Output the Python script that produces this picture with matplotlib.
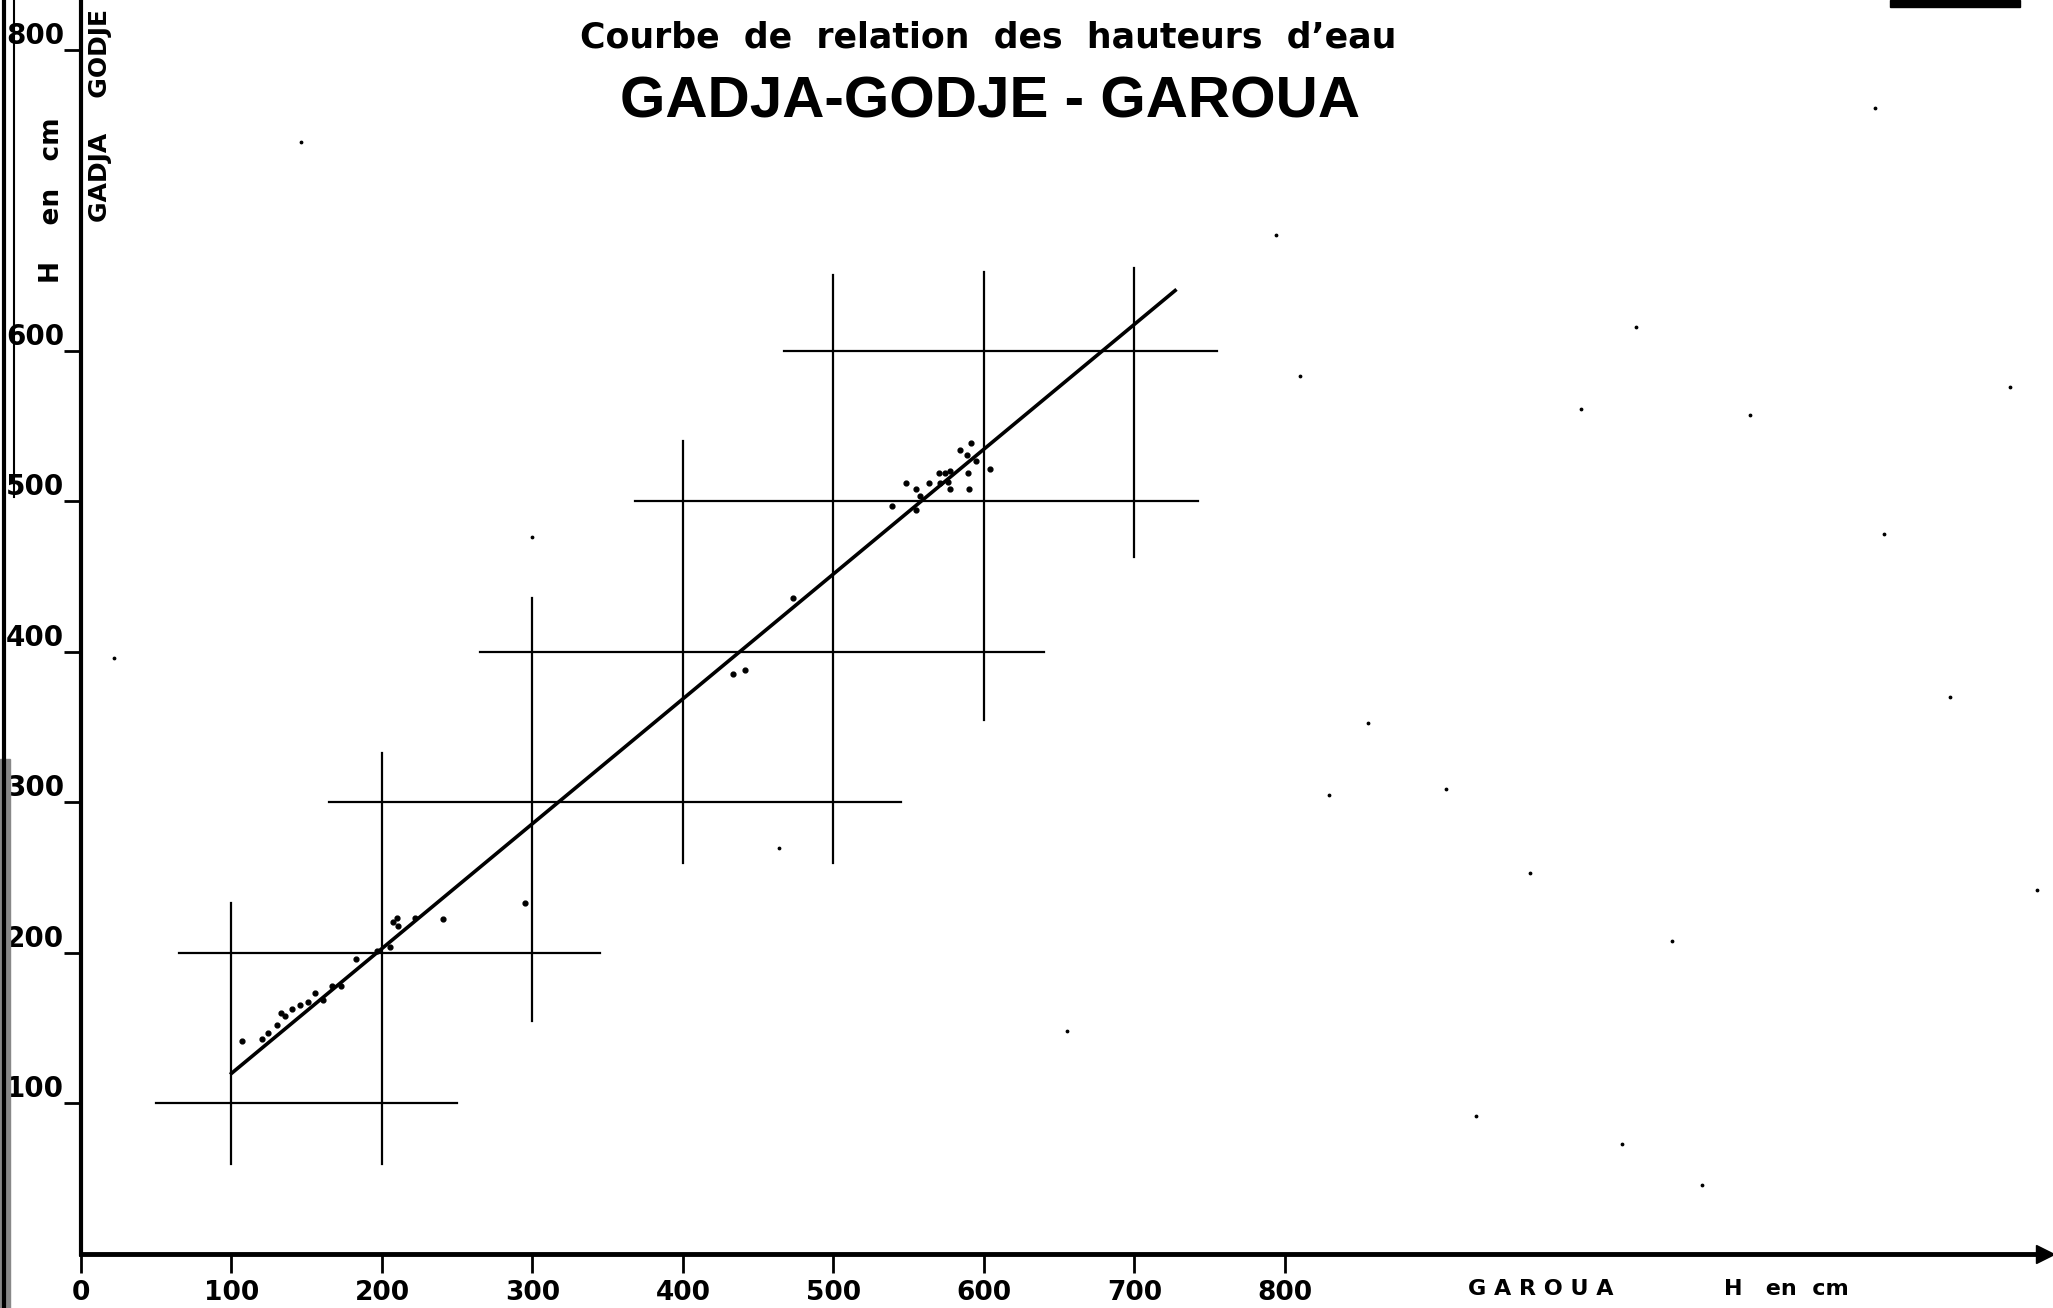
import numpy as np
import matplotlib.pyplot as plt
from matplotlib.patches import Rectangle
from matplotlib.lines import Line2D

# H Garoua (x) vs H Gadja-Godje (y), cm
x_pts = [107, 120, 124.5, 130, 133, 135.5, 140, 145.5, 151, 155.5, 161, 166.6, 173,
         183, 196.5, 205.3, 207.5, 209.8, 210.9, 222, 240.8, 295,
         433, 441, 473,
         538.7, 548, 555, 557.5, 554.8, 563.5, 570.3, 574, 570.8, 577.4, 576.3, 577.4,
         584, 589, 591.2, 589.6, 590, 595, 604]
y_pts = [141.7, 142.7, 147, 152, 160, 157.8, 162.6, 165.4, 167.7, 173.6, 168.8, 177.7, 177.7,
         195.8, 201, 204.2, 220.8, 223, 217.6, 223, 222.4, 233,
         385, 388, 436,
         497.2, 512, 508, 503.7, 494, 512, 519, 519, 512, 520, 513, 508,
         533.8, 531, 538.7, 519, 508, 526.6, 521.4]

# relation line (end points)
fit_x = [100, 727]
fit_y = [120, 640]

# cross marks: horizontal segments at level h from x0 to x1
h_levels = [100, 200, 300, 400, 500, 600]
h_from = [50, 65, 165, 265, 368, 467]
h_to = [250, 345, 545, 640, 742, 755]
# vertical segments at x = v from y0 to y1
v_levels = [100, 200, 300, 400, 500, 600, 700]
v_from = [60, 60, 155, 260, 260, 355, 463]
v_to = [233, 333, 436, 540, 650, 652, 655]

# scan specks
speck_x = [146, 794, 1033, 1282, 810, 997, 1109, 1198, 1242, 855, 829, 907, 963,
           1057, 655, 927, 1024, 1077, 300, 464, 1192, 22, 1300]
speck_y = [739, 677, 616, 576, 583, 561, 557, 478, 370, 353, 305, 309, 253,
           208, 148, 92, 73, 46, 476, 270, 761, 396, 242]

x_ticks = [0, 100, 200, 300, 400, 500, 600, 700, 800]
y_ticks = [100, 200, 300, 400, 500, 600, 800]

W, H = 2053, 1308
fig = plt.figure(figsize=(W / 100, H / 100), dpi=100)
ax = fig.add_axes([81 / W, 54 / H, (2045 - 81) / W, 1254 / H])
ax.set_xlim(0, 1305)
ax.set_ylim(0, 833)

for h, a, b in zip(h_levels, h_from, h_to):
    ax.plot([a, b], [h, h], color="black", lw=1.6)
for v, a, b in zip(v_levels, v_from, v_to):
    ax.plot([v, v], [a, b], color="black", lw=1.6)
ax.plot(fit_x, fit_y, color="black", lw=2.6)
ax.scatter(x_pts, y_pts, s=12, color="black", zorder=3)
ax.scatter(speck_x, speck_y, s=3, color="black")

for side in ["top", "right"]:
    ax.spines[side].set_visible(False)
ax.spines["left"].set_linewidth(3)
ax.spines["bottom"].set_linewidth(3.5)
ax.plot(1, 0, ">", color="black", ms=13, transform=ax.transAxes, clip_on=False)

ax.set_xticks(x_ticks)
ax.set_yticks(y_ticks)
ax.set_xticklabels([str(t) for t in x_ticks], fontsize=19, fontweight="bold")
ax.set_yticklabels([str(t) for t in y_ticks], fontsize=20, fontweight="bold")
ax.tick_params(axis="x", length=14, width=2, pad=5)
ax.tick_params(axis="y", length=12, width=2, pad=0)
for t in ax.get_yticklabels():
    t.set_va("bottom")

lab = ax.get_xaxis_transform()
ax.text(970, -0.028, "G A R O U A", transform=lab, ha="center", va="center",
        fontsize=16, fontweight="bold")
ax.text(1133, -0.028, "H   en  cm", transform=lab, ha="center", va="center",
        fontsize=16, fontweight="bold")

fig.text(52 / W, 1 - 200 / H, "H    en   cm", rotation=90, ha="center", va="center",
         fontsize=19, fontweight="bold")
fig.text(100 / W, 1 - 115 / H, "GADJA    GODJE", rotation=90, ha="center", va="center",
         fontsize=18, fontweight="bold")

fig.text(988 / W, 1 - 37 / H, "Courbe  de  relation  des  hauteurs  d\u2019eau",
         ha="center", va="center", fontsize=25, fontweight="bold")
fig.text(990 / W, 1 - 103 / H, "GADJA-GODJE - GAROUA", ha="center", va="center",
         fontsize=42, fontweight="bold",
         family=["Liberation Sans", "DejaVu Sans"])

# scan border and blot
fig.add_artist(Line2D([4 / W, 4 / W], [0, 1], color="black", lw=3))
fig.add_artist(Line2D([14 / W, 14 / W], [0.62, 1], color="black", lw=1.5))
fig.patches.append(Rectangle((0, 0), 10 / W, 0.42, transform=fig.transFigure,
                             color="#888888", zorder=0))
fig.patches.append(Rectangle((1890 / W, 1 - 7 / H), 130 / W, 7 / H,
                             transform=fig.transFigure, color="black"))

fig.savefig("out.png", dpi=100)
